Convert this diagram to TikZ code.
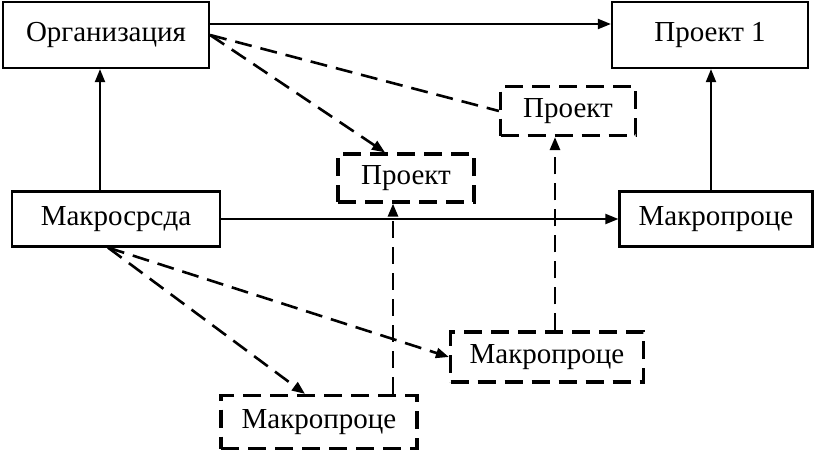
\documentclass[tikz,border=0pt]{standalone}
\usepackage{fontspec}
\setmainfont{Liberation Serif}
\usetikzlibrary{arrows.meta}
\begin{document}
\begin{tikzpicture}[x=1pt,y=-1pt,
  solidbox/.style={draw,line width=2.2pt,inner sep=0pt,font=\fontsize{29}{32}\selectfont},
  dashbox/.style={draw,line width=3.2pt,dash pattern=on 18pt off 9pt,inner sep=0pt,font=\fontsize{29}{32}\selectfont},
  conn/.style={line width=2pt,-{Triangle[length=13pt,width=10pt]}},
  dconn/.style={line width=2.6pt,dash pattern=on 17pt off 9pt,-{Triangle[length=13pt,width=10pt]}},
  dline/.style={line width=2.6pt,dash pattern=on 17pt off 9pt}]
\useasboundingbox (0,0) rectangle (817,453);
\node[solidbox,minimum width=206pt,minimum height=66pt] (org) at (106,35) {Организация};
\node[solidbox,minimum width=196pt,minimum height=66pt] (p1) at (710,35) {Проект 1};
\node[solidbox,minimum width=208pt,minimum height=55pt] (mac) at (116,219) {Макросрсда};
\node[solidbox,minimum width=193pt,minimum height=55pt] (mp) at (716,219) {Макропроце};
\node[dashbox,minimum width=136pt,minimum height=48pt] (pm) at (406,178) {Проект};
\node[dashbox,minimum width=135pt,minimum height=49pt] (pr) at (568,111) {Проект};
\node[dashbox,minimum width=193pt,minimum height=50pt] (mm) at (547,357) {Макропроце};
\node[dashbox,minimum width=196pt,minimum height=53pt] (mb) at (319,422) {Макропроце};
% solid connectors
\draw[conn] ([yshift=11pt]org.east) -- ([yshift=11pt]p1.west);
\draw[conn] ([xshift=-16pt]mac.north) -- ([xshift=-16pt]mac.north |- org.south);
\draw[conn] (mac.east) -- (mp.west);
\draw[conn] ([xshift=-5pt]mp.north) -- ([xshift=-5pt]mp.north |- p1.south);
% dashed connectors
\draw[dconn] (org.east) -- ([xshift=-21pt]pm.north);
\draw[dline] (org.east) -- (pr.west);
\draw[dconn] ([xshift=-8pt]mac.south) -- (mm.west);
\draw[dconn] ([xshift=-8pt]mac.south) -- ([xshift=-14pt]mb.north);
\draw[dconn] ([xshift=74pt]mb.north) -- ([xshift=74pt]mb.north |- pm.south);
\draw[dconn] ([xshift=8pt]mm.north) -- ([xshift=8pt]mm.north |- pr.south);
\end{tikzpicture}
\end{document}
